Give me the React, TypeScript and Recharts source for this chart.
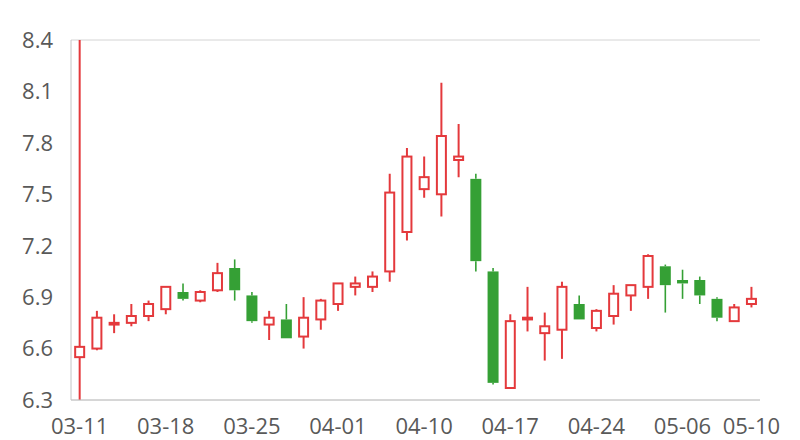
import { Bar, CartesianGrid, ComposedChart, XAxis, YAxis } from "recharts";

const dates = [
  "03-11", "03-12", "03-13", "03-14", "03-15",
  "03-18", "03-19", "03-20", "03-21", "03-22",
  "03-25", "03-26", "03-27", "03-28", "03-29",
  "04-01", "04-02", "04-03", "04-08", "04-09",
  "04-10", "04-11", "04-12", "04-15", "04-16",
  "04-17", "04-18", "04-19", "04-22", "04-23",
  "04-24", "04-25", "04-26", "04-29", "04-30",
  "05-06", "05-07", "05-08", "05-09", "05-10",
];

const open = [
  6.55, 6.60, 6.74, 6.75, 6.79, 6.83, 6.93, 6.88, 6.94, 7.07,
  6.91, 6.74, 6.77, 6.67, 6.77, 6.86, 6.96, 6.96, 7.05, 7.28,
  7.53, 7.50, 7.70, 7.59, 7.05, 6.37, 6.77, 6.69, 6.71, 6.86,
  6.72, 6.79, 6.91, 6.96, 7.08, 7.00, 7.00, 6.89, 6.76, 6.86,
];
const close = [
  6.61, 6.78, 6.75, 6.79, 6.86, 6.96, 6.89, 6.93, 7.04, 6.94,
  6.76, 6.78, 6.66, 6.78, 6.88, 6.98, 6.98, 7.02, 7.51, 7.72,
  7.60, 7.84, 7.72, 7.11, 6.40, 6.76, 6.78, 6.73, 6.96, 6.77,
  6.82, 6.92, 6.97, 7.14, 6.97, 6.98, 6.91, 6.78, 6.84, 6.89,
];
const high = [
  8.40, 6.82, 6.80, 6.86, 6.88, 6.96, 6.98, 6.94, 7.10, 7.12,
  6.93, 6.82, 6.86, 6.90, 6.89, 6.98, 7.02, 7.05, 7.62, 7.77,
  7.72, 8.15, 7.91, 7.62, 7.07, 6.80, 6.96, 6.81, 6.99, 6.91,
  6.83, 6.97, 6.97, 7.15, 7.09, 7.06, 7.02, 6.90, 6.86, 6.96,
];
const low = [
  6.30, 6.59, 6.69, 6.73, 6.76, 6.80, 6.88, 6.87, 6.93, 6.88,
  6.75, 6.65, 6.66, 6.60, 6.71, 6.82, 6.91, 6.93, 6.99, 7.23,
  7.48, 7.37, 7.60, 7.05, 6.39, 6.37, 6.70, 6.53, 6.54, 6.77,
  6.70, 6.74, 6.82, 6.89, 6.81, 6.89, 6.86, 6.76, 6.76, 6.84,
];

const yTicks = [6.3, 6.6, 6.9, 7.2, 7.5, 7.8, 8.1, 8.4];
const xTicks = ["03-11", "03-18", "03-25", "04-01", "04-10", "04-17", "04-24", "05-06", "05-10"];

const UP = "#e4393c";
const DOWN = "#35a035";

const data = dates.map((d, i) => ({
  date: d,
  open: open[i],
  close: close[i],
  high: high[i],
  low: low[i],
}));

function Candle(props: any) {
  const { x, y, width, height, payload } = props;
  if (x == null || y == null) return null;
  const top = Math.min(y, y + height);
  const h = Math.abs(height);
  const range = payload.high - payload.low || 1;
  const ratio = h / range;
  const cx = x + width / 2;
  const up = payload.close >= payload.open;
  const color = up ? UP : DOWN;
  const bodyTop = top + (payload.high - Math.max(payload.open, payload.close)) * ratio;
  const bodyBot = top + (payload.high - Math.min(payload.open, payload.close)) * ratio;
  const bw = 11;

  return (
    <g>
      <line x1={cx} x2={cx} y1={top} y2={bodyTop} stroke={color} strokeWidth={up ? 2 : 1.6} />
      <line x1={cx} x2={cx} y1={bodyBot} y2={top + h} stroke={color} strokeWidth={up ? 2 : 1.6} />
      {up ? (
        <rect
          x={cx - (bw - 2) / 2}
          y={bodyTop}
          width={bw - 2}
          height={Math.max(bodyBot - bodyTop, 1)}
          fill="#fff"
          stroke={color}
          strokeWidth={2}
        />
      ) : (
        <rect
          x={cx - bw / 2}
          y={bodyTop}
          width={bw}
          height={Math.max(bodyBot - bodyTop, 2)}
          fill={color}
        />
      )}
    </g>
  );
}

export default function App() {
  return (
    <div style={{ position: "absolute", left: 0, top: 0, background: "#fff" }}>
      <ComposedChart
        width={800}
        height={440}
        data={data}
        margin={{ top: 40, right: 40, bottom: 0, left: 0 }}
        barCategoryGap="30%"
      >
        <CartesianGrid vertical={false} stroke="#d4d4d4" />
        <XAxis
          dataKey="date"
          ticks={xTicks}
          interval={0}
          height={40}
          tickLine={false}
          tickSize={0}
          tickMargin={18}
          axisLine={{ stroke: "#c4c4c4" }}
          tick={{ fill: "#595959", fontSize: 22, fontFamily: "Open Sans" }}
        />
        <YAxis
          yAxisId="left"
          width={71}
          domain={[6.3, 8.4]}
          ticks={yTicks}
          allowDataOverflow
          tickFormatter={(v: number) => v.toFixed(1)}
          tickLine={false}
          tickSize={0}
          tickMargin={18}
          axisLine={{ stroke: "#c4c4c4" }}
          tick={{ fill: "#595959", fontSize: 22, fontFamily: "Open Sans" }}
        />
        <YAxis
          yAxisId="right"
          orientation="right"
          width={0}
          domain={[6.3, 8.4]}
          tick={false}
          tickLine={false}
          axisLine={{ stroke: "#c4c4c4" }}
        />
        <Bar
          yAxisId="left"
          dataKey={(d: any) => [d.low, d.high]}
          shape={<Candle />}
          isAnimationActive={false}
        />
      </ComposedChart>
    </div>
  );
}
